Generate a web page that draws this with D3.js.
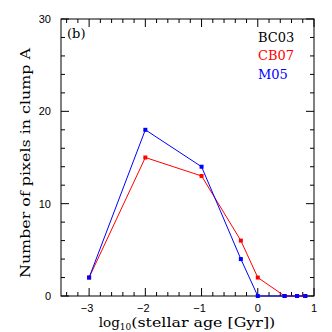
<!DOCTYPE html>
<html><head><meta charset="utf-8">
<script src="https://cdn.jsdelivr.net/npm/d3@7"></script>
<style>body{margin:0;background:#fff}svg{display:block}</style>
</head><body>
<script>
const ages = [-3, -2, -1, -0.301, 0, 0.477, 0.699, 0.845];
const bc03 = [2, 18, 14, 4, 0, 0, 0, 0];
const cb07 = [2, 15, 13, 6, 2, 0, 0, 0];
const m05  = [2, 18, 14, 4, 0, 0, 0, 0];
const seriesNames = ["BC03", "CB07", "M05"];
const seriesColors = ["#000000", "#ff0000", "#0000ff"];
const xTicks = [-3, -2, -1, 0, 1];
const yTicks = [0, 10, 20, 30];

const W = 332, H = 332;
const m = {l: 61, r: 18, t: 19, b: 36};
const svg = d3.select("body").append("svg").attr("width", W).attr("height", H);
const x = d3.scaleLinear().domain([-3.5, 1]).range([m.l, W - m.r]);
const y = d3.scaleLinear().domain([0, 30]).range([H - m.b, m.t]);

const tickFont = "'Liberation Sans', Arial, sans-serif";
const serif = "'DejaVu Serif', serif";

// frame
svg.append("rect").attr("x", m.l).attr("y", m.t)
  .attr("width", x.range()[1] - m.l).attr("height", y.range()[0] - m.t)
  .attr("fill", "none").attr("stroke", "#000").attr("stroke-width", 1);

const g = svg.append("g");
const xMinor = d3.range(-3.4, 1.0001, 0.2).map(v => +v.toFixed(2));
const yMinor = d3.range(0, 30.001, 2);
function isMajorX(v){ return Math.abs(v - Math.round(v)) < 1e-6; }
xMinor.forEach(v => {
  const len = isMajorX(v) ? 8 : 4;
  g.append("line").attr("x1", x(v)).attr("x2", x(v)).attr("y1", y(0)).attr("y2", y(0) - len).attr("stroke", "#000");
  g.append("line").attr("x1", x(v)).attr("x2", x(v)).attr("y1", y(30)).attr("y2", y(30) + len).attr("stroke", "#000");
});
yMinor.forEach(v => {
  const len = (v % 10 === 0) ? 8 : 4;
  g.append("line").attr("y1", y(v)).attr("y2", y(v)).attr("x1", x(-3.5)).attr("x2", x(-3.5) + len).attr("stroke", "#000");
  g.append("line").attr("y1", y(v)).attr("y2", y(v)).attr("x1", x(1)).attr("x2", x(1) - len).attr("stroke", "#000");
});

// tick labels
xTicks.forEach(v => {
  svg.append("text").attr("x", x(v) + (v < 0 ? -2 : 0)).attr("y", y(0) + 16)
    .attr("text-anchor", "middle").attr("font-family", tickFont).attr("font-size", 11)
    .text(v < 0 ? "\u2212" + Math.abs(v) : String(v));
});
yTicks.forEach(v => {
  svg.append("text").attr("x", m.l - 10).attr("y", y(v) + 4)
    .attr("text-anchor", "end").attr("font-family", tickFont).attr("font-size", 11)
    .text(String(v));
});

// axis labels
const xl = svg.append("text").attr("x", 187).attr("y", 327).attr("text-anchor", "middle")
  .attr("font-family", serif).attr("font-size", 13.5);
xl.append("tspan").text("log");
xl.append("tspan").attr("font-size", 9).attr("dy", 3).text("10");
xl.append("tspan").attr("dy", -3).attr("textLength", 144).attr("lengthAdjust", "spacingAndGlyphs").text("(stellar age [Gyr])");

svg.append("text").attr("transform", "translate(29.5,163) rotate(-90)")
  .attr("text-anchor", "middle").attr("font-family", serif).attr("font-size", 13)
  .attr("textLength", 230).attr("lengthAdjust", "spacingAndGlyphs")
  .text("Number of pixels in clump A");

// panel label
svg.append("text").attr("x", 67).attr("y", 38).attr("font-family", serif).attr("font-size", 13).text("(b)");

// legend
seriesNames.forEach((n, i) => {
  svg.append("text").attr("x", 258).attr("y", 42 + i * 18.3)
    .attr("font-family", serif).attr("font-size", 13).attr("fill", seriesColors[i]).text(n);
});

// series (BC03 coincides with M05 and is fully hidden beneath it in the reference)
const data = [cb07, m05];
const colors = [seriesColors[1], seriesColors[2]];
const line = d3.line().x(d => x(d[0])).y(d => y(d[1]));
data.forEach((vals, i) => {
  const pts = ages.map((a, j) => [a, vals[j]]);
  svg.append("path").datum(pts).attr("d", line).attr("fill", "none")
    .attr("stroke", colors[i]).attr("stroke-width", 1);
  svg.selectAll(null).data(pts).enter().append("rect")
    .attr("x", d => x(d[0]) - 2).attr("y", d => y(d[1]) - 2)
    .attr("width", 4).attr("height", 4).attr("fill", colors[i]);
});
</script>
</body></html>
